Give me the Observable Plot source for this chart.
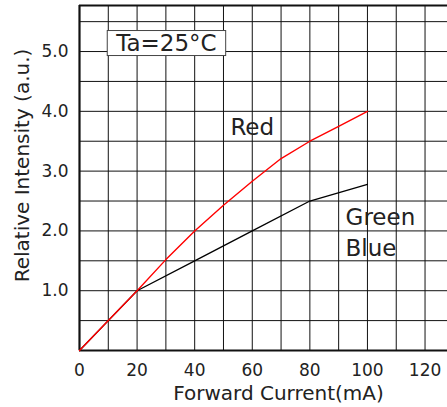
<!DOCTYPE html>
<html><head><meta charset="utf-8">
<script src="https://cdn.jsdelivr.net/npm/d3@7"></script>
<script src="https://cdn.jsdelivr.net/npm/@observablehq/plot@0.6"></script>
<style>html,body{margin:0;padding:0;background:#fff;}</style>
</head><body><div id="chart"></div>
<script>
// Data
const redCurrent = [0, 10, 20, 30, 40, 50, 60, 70, 80, 90, 100];
const redIntensity = [0, 0.5, 1.0, 1.52, 2.0, 2.43, 2.83, 3.21, 3.5, 3.75, 4.0];
const gbCurrent = [0, 10, 20, 40, 60, 80, 100];
const gbIntensity = [0, 0.5, 1.0, 1.5, 2.0, 2.5, 2.78];
const xTicks = [0, 20, 40, 60, 80, 100, 120];
const yTicks = [1, 2, 3, 4, 5];
const xGrid = [10, 20, 30, 40, 50, 60, 70, 80, 90, 100, 110, 120];
const yGrid = [0.5, 1, 1.5, 2, 2.5, 3, 3.5, 4, 4.5, 5, 5.5];
const xDomain = [0, 127.8];
const yDomain = [0, 5.77];
const xLabel = "Forward Current(mA)";
const yLabel = "Relative Intensity (a.u.)";
const seriesLabels = {red: "Red", green: "Green", blue: "Blue"};
const condition = "Ta=25°C";

const red = redCurrent.map((x, i) => ({x, y: redIntensity[i]}));
const gb = gbCurrent.map((x, i) => ({x, y: gbIntensity[i]}));

const ink = "#222";
const plot = Plot.plot({
  width: 447, height: 407,
  marginLeft: 79, marginRight: 0, marginTop: 5, marginBottom: 57,
  style: {fontFamily: "DejaVu Sans", fontSize: "17px", color: ink, background: "#fff"},
  x: {domain: xDomain},
  y: {domain: yDomain},
  marks: [
    Plot.ruleX(xGrid, {stroke: "#111", strokeWidth: 1}),
    Plot.ruleY(yGrid, {stroke: "#111", strokeWidth: 1}),
    Plot.ruleX([xDomain[0]], {stroke: "#111", strokeWidth: 2.2}),
    Plot.ruleY([yDomain[0]], {stroke: "#111", strokeWidth: 2.2}),
    Plot.ruleY([yDomain[1]], {stroke: "#111", strokeWidth: 2.2}),
    Plot.axisX({ticks: xTicks, tickSize: 0, tickPadding: 13, label: null, fontSize: 17}),
    Plot.axisY({ticks: yTicks, tickSize: 0, tickPadding: 11, label: null, fontSize: 17, tickFormat: d => d.toFixed(1)}),
    Plot.line(gb, {x: "x", y: "y", stroke: "#000", strokeWidth: 1.3}),
    Plot.line(red, {x: "x", y: "y", stroke: "#ff0000", strokeWidth: 1.4}),
    Plot.text([seriesLabels.red], {x: 60, y: 3.72, text: d => d, fontSize: 23, fill: ink}),
    Plot.text([seriesLabels.green], {x: 92.4, y: 2.23, text: d => d, textAnchor: "start", fontSize: 23, fill: ink}),
    Plot.text([seriesLabels.blue], {x: 92.4, y: 1.71, text: d => d, textAnchor: "start", fontSize: 23, fill: ink}),
    Plot.text([condition], {x: 30.2, y: 5.14, text: d => d, fontSize: 23, fill: ink, className: "ta-label"}),
    Plot.text([xLabel], {frameAnchor: "bottom", lineAnchor: "top", textAnchor: "middle", dx: 15, dy: 35, text: d => d, fontSize: 20, fill: ink}),
    Plot.text([yLabel], {frameAnchor: "left", textAnchor: "middle", lineAnchor: "middle", rotate: -90, dx: -57, dy: -12.5, text: d => d, fontSize: 20, fill: ink})
  ]
});
document.getElementById("chart").appendChild(plot);

// Box around the condition label, sized from its text
const g = plot.querySelector("g.ta-label");
if (g) {
  const t = g.querySelector("text");
  const b = t.getBBox();
  const ns = "http://www.w3.org/2000/svg";
  const r = document.createElementNS(ns, "rect");
  r.setAttribute("x", b.x - 8);
  r.setAttribute("y", b.y + 1);
  r.setAttribute("width", b.width + 17);
  r.setAttribute("height", b.height - 1);
  r.setAttribute("fill", "#fff");
  r.setAttribute("stroke", "#444");
  r.setAttribute("stroke-width", 1);
  const tr = t.getAttribute("transform");
  if (tr) r.setAttribute("transform", tr);
  g.insertBefore(r, t);
}
</script>
</body></html>
